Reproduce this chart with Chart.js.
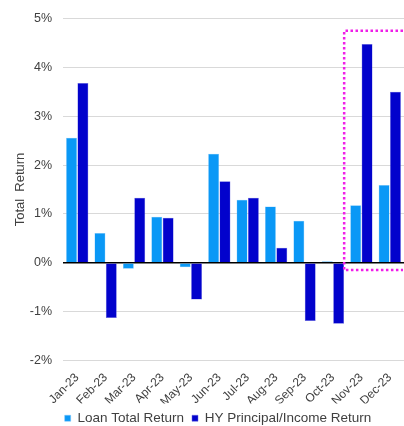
<!DOCTYPE html>
<html><head><meta charset="utf-8">
<script src="https://cdn.jsdelivr.net/npm/chart.js@4/dist/chart.umd.min.js"></script>
<style>html,body{margin:0;padding:0;background:#fff;}#wrap{width:404px;height:426px;}</style>
</head><body><div id="wrap"><canvas id="c" width="404" height="426"></canvas></div>
<script>
const categories = ['Jan-23','Feb-23','Mar-23','Apr-23','May-23','Jun-23','Jul-23','Aug-23','Sep-23','Oct-23','Nov-23','Dec-23'];
const loanTotalReturn = [2.56, 0.61, -0.12, 0.94, -0.09, 2.23, 1.29, 1.15, 0.86, 0.03, 1.18, 1.59];
const hyPrincipalIncome = [3.68, -1.13, 1.33, 0.92, -0.75, 1.67, 1.33, 0.31, -1.19, -1.25, 4.48, 3.50];
const seriesNames = ['Loan Total Return', 'HY Principal/Income Return'];
const yTicks = [-2, -1, 0, 1, 2, 3, 4, 5];
const highlightStartIndex = 9.5;
const highlightTop = 4.75;
const highlightBottom = -0.15;

const FONT = "'Liberation Sans', Arial, sans-serif";
Chart.defaults.font.family = FONT;
Chart.defaults.color = '#404040';

const highlightBox = {
  id: 'highlightBox',
  afterDatasetsDraw(chart) {
    const {ctx, chartArea, scales} = chart;
    const x0 = scales.x.getPixelForValue(highlightStartIndex) - 3;
    const x1 = chartArea.right - 1;
    const y0 = scales.y.getPixelForValue(highlightTop);
    const y1 = scales.y.getPixelForValue(highlightBottom);
    ctx.save();
    ctx.strokeStyle = '#F01EE8';
    ctx.lineWidth = 2.5;
    ctx.setLineDash([2.5, 2.5]);
    ctx.beginPath();
    ctx.moveTo(x1, y0);
    ctx.lineTo(x0, y0);
    ctx.lineTo(x0, y1);
    ctx.lineTo(x1, y1);
    ctx.stroke();
    ctx.restore();
  }
};

const legendShift = {
  id: 'legendShift',
  afterLayout(chart) {
    if (chart.legend) { chart.legend.left += 16; chart.legend.right += 16; }
  }
};

new Chart(document.getElementById('c'), {
  type: 'bar',
  data: {
    labels: categories,
    datasets: [
      { label: seriesNames[0], data: loanTotalReturn, backgroundColor: '#0A98F6', borderColor: '#7cc4fa', borderWidth: 0.5 },
      { label: seriesNames[1], data: hyPrincipalIncome, backgroundColor: '#0202CC', borderColor: '#6a6ae0', borderWidth: 0.5 }
    ]
  },
  options: {
    responsive: false,
    animation: false,
    devicePixelRatio: 1,
    layout: { padding: { top: 5, right: 0, left: 0, bottom: -9 } },
    datasets: { bar: { categoryPercentage: 0.8, barPercentage: 0.96 } },
    plugins: {
      legend: {
        position: 'bottom',
        labels: { boxWidth: 6, boxHeight: 6, padding: 8, font: { size: 13.5, family: FONT }, color: '#404040' }
      },
      tooltip: { enabled: false }
    },
    scales: {
      x: {
        grid: { display: false },
        border: { display: false },
        afterFit(scale) { scale.height = 43; },
        ticks: { maxRotation: 45, minRotation: 45, autoSkip: false, font: { size: 12, family: FONT }, color: '#404040', padding: 2 }
      },
      y: {
        min: -2, max: 5,
        afterBuildTicks(scale) { scale.ticks = yTicks.map(v => ({ value: v })); },
        afterFit(scale) { scale.width = 63; },
        grid: {
          drawTicks: false,
          color: ctx => ctx.tick && ctx.tick.value === 0 ? '#000000' : '#d9d9d9',
          lineWidth: ctx => ctx.tick && ctx.tick.value === 0 ? 1.5 : 1
        },
        border: { display: false },
        ticks: { callback: v => v + '%', padding: 11, font: { size: 12.5, family: FONT }, color: '#404040' },
        title: { display: true, text: 'Total  Return', font: { size: 13, family: FONT }, color: '#404040', padding: { top: 13, bottom: 0 } }
      }
    }
  },
  plugins: [highlightBox, legendShift]
});
</script></body></html>
